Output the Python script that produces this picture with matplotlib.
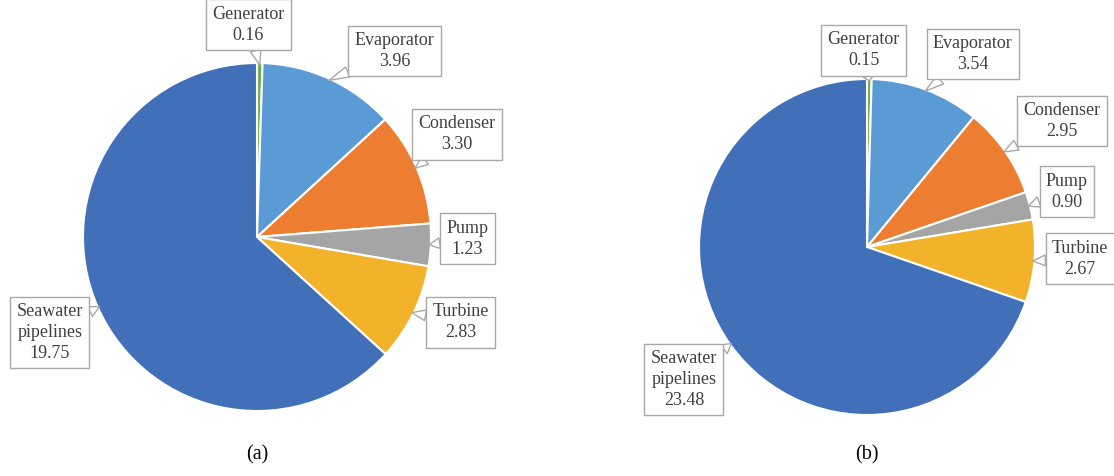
import numpy as np
import matplotlib.pyplot as plt

plt.rcParams['font.family'] = ['Liberation Serif', 'DejaVu Serif']

parts = ['Generator', 'Evaporator', 'Condenser', 'Pump', 'Turbine', 'Seawater\npipelines']
loss_a = [0.16, 3.96, 3.30, 1.23, 2.83, 19.75]
loss_b = [0.15, 3.54, 2.95, 0.90, 2.67, 23.48]
colors = ['#70AD47', '#5B9BD5', '#ED7D31', '#A5A5A5', '#F2B22A', '#4270B8']

# where each callout box sits, in pie-radius units from the centre
label_pos_a = [(-0.05, 1.22), (0.79, 1.07), (1.15, 0.59), (1.21, -0.01), (1.17, -0.49), (-1.19, -0.55)]
label_pos_b = [(-0.02, 1.17), (0.63, 1.15), (1.16, 0.75), (1.19, 0.33), (1.27, -0.07), (-1.09, -0.79)]

W, H = 1114, 476
fig = plt.figure(figsize=(W / 100, H / 100), dpi=100)


def draw_pie(cx, cy, r, values, label_pos, caption):
    half = 250
    ax = fig.add_axes([(cx - half) / W, (H - cy - half) / H, 2 * half / W, 2 * half / H])
    wedges, _ = ax.pie(values, colors=colors, startangle=90, counterclock=False,
                       wedgeprops=dict(edgecolor='white', linewidth=1.5))
    # pie() resets the limits, so scale afterwards
    ax.set_xlim(-half / r, half / r)
    ax.set_ylim(-half / r, half / r)
    ax.set_aspect('equal')
    ax.axis('off')
    for w, name, v, (lx, ly) in zip(wedges, parts, values, label_pos):
        ang = np.deg2rad((w.theta1 + w.theta2) / 2)
        tip = (np.cos(ang) * 0.99, np.sin(ang) * 0.99)
        ax.annotate(f'{name}\n{v:.2f}', xy=tip, xytext=(lx, ly),
                    ha='center', va='center', fontsize=13, color='#404040',
                    linespacing=1.3, annotation_clip=False,
                    bbox=dict(boxstyle='square,pad=0.35', fc='white', ec='#A8A8A8', lw=1),
                    arrowprops=dict(arrowstyle='wedge,tail_width=0.6,shrink_factor=0.5',
                                    fc='white', ec='#A8A8A8', lw=1,
                                    shrinkA=0, shrinkB=0))
    fig.text(cx / W, 1 - 455 / H, caption, ha='center', va='center', fontsize=14.5)


draw_pie(257, 237, 174, loss_a, label_pos_a, '(a)')
draw_pie(867, 247, 168, loss_b, label_pos_b, '(b)')

fig.savefig('out.png', dpi=100)
